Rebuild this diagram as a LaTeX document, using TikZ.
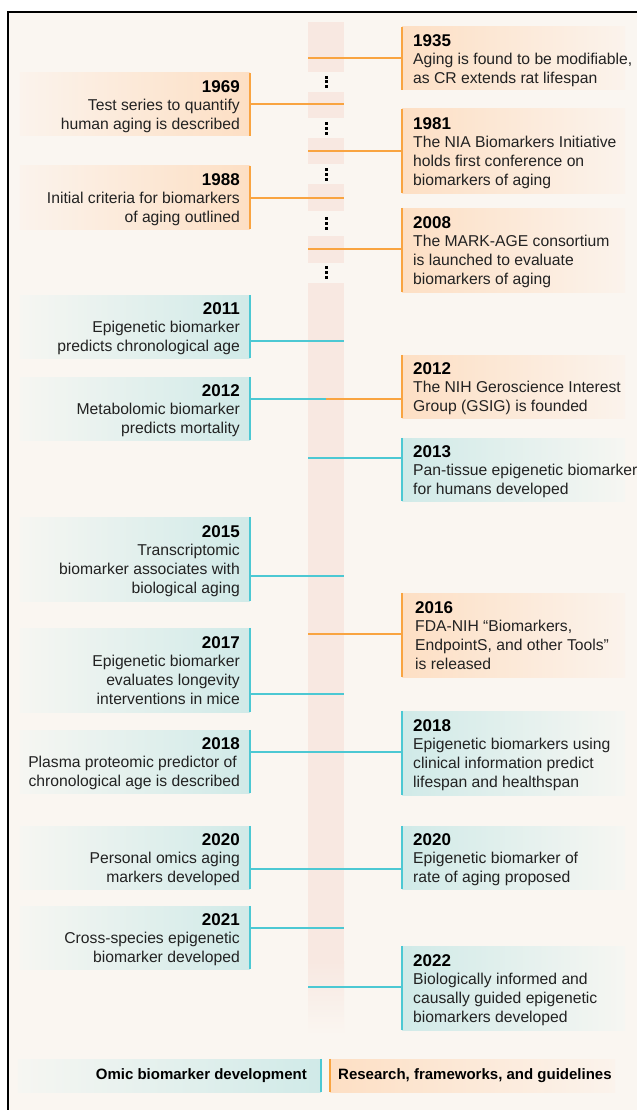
\documentclass[tikz,border=0pt]{standalone}
\usepackage{fontspec}
\setmainfont{Liberation Sans}
\usetikzlibrary{calc}
\definecolor{bg}{HTML}{FAF6F1}
\definecolor{colm}{HTML}{F8E8E1}
\definecolor{orl}{HTML}{F9A441}
\definecolor{ors}{HTML}{FDDFC4}
\definecolor{orw}{HTML}{FBF3EC}
\definecolor{cyl}{HTML}{4CC8D3}
\definecolor{cys}{HTML}{D0EAE8}
\definecolor{cyw}{HTML}{F6F6F2}
\definecolor{txt}{HTML}{222222}
\newcommand\yr[1]{\rule{0pt}{12.5pt}{\fontsize{17}{18.7}\selectfont\bfseries\color{black}#1}}
\tikzset{
  rbox/.style={rectangle, inner sep=0pt, minimum width=223pt, anchor=west},
  lbox/.style={rectangle, inner sep=0pt, minimum width=230pt, anchor=east},
  hthree/.style={minimum height=63pt},
  hfour/.style={minimum height=84pt},
  ofr/.style={left color=ors, right color=orw},
  ofl/.style={left color=orw, right color=ors},
  cfr/.style={left color=cys, right color=cyw},
  cfl/.style={left color=cyw, right color=cys},
  obar/.style={draw=orl, line width=2.6pt},
  cbar/.style={draw=cyl, line width=2.6pt},
  oline/.style={draw=orl, line width=1.5pt},
  cline/.style={draw=cyl, line width=1.5pt},
  rtext/.style={anchor=north west, inner sep=0pt, align=left, text=txt, font={\fontsize{15.7}{18.7}\selectfont}},
  ltext/.style={anchor=north east, inner sep=0pt, align=right, text=txt, font={\fontsize{15.7}{18.7}\selectfont}},
  legtext/.style={inner sep=0pt, text=black, font={\fontsize{15}{18}\selectfont\bfseries}},
}
\begin{document}
\begin{tikzpicture}[x=1pt,y=-1pt]
\useasboundingbox (0,0) rectangle (637,1110);
% frame and background
\fill[white] (0,0) rectangle (637,1110);
\fill[bg] (8,12) rectangle (637,1110);
\draw[black, line width=2pt] (8,1110) -- (8,12) -- (637,12);
% central column
\fill[colm] (308,22) rectangle (344,72);
\fill[colm] (308,92) rectangle (344,118);
\fill[colm] (308,138) rectangle (344,164);
\fill[colm] (308,184) rectangle (344,211);
\fill[colm] (308,236) rectangle (344,263);
\fill[colm] (308,283) rectangle (344,962);
\shade[top color=colm, bottom color=bg] (308,961) rectangle (344,1035);
\foreach \yy in {82,128.5,174.5,223.5,272.5}{
  \foreach \dd in {-4.6,0,4.6}{
    \fill[black] (324.5,{\yy+\dd-1.5}) rectangle ++(3,3);
  }
}
% boxes
\node[rbox,hthree,ofr] (b1935) at (402,58.5) {};
\node[lbox,hthree,ofl] (b1969) at (250,104.5) {};
\node[rbox,hfour,ofr] (b1981) at (402,151) {};
\node[lbox,hthree,ofl] (b1988) at (250,197.5) {};
\node[rbox,hfour,ofr] (b2008) at (402,250) {};
\node[lbox,hthree,cfl] (b2011) at (250,326.5) {};
\node[lbox,hthree,cfl] (b2012l) at (250,408.5) {};
\node[rbox,hthree,ofr] (b2012r) at (402,386.5) {};
\node[rbox,hthree,cfr] (b2013) at (402,469.5) {};
\node[lbox,hfour,cfl] (b2015) at (250,559) {};
\node[rbox,hfour,ofr] (b2016) at (402,635) {};
\node[lbox,hfour,cfl] (b2017) at (250,670) {};
\node[lbox,hthree,cfl] (b2018l) at (250,761.5) {};
\node[rbox,hfour,cfr] (b2018r) at (402,753) {};
\node[lbox,hthree,cfl] (b2020l) at (250,857.5) {};
\node[rbox,hthree,cfr] (b2020r) at (402,857.5) {};
\node[lbox,hthree,cfl] (b2021) at (250,937.5) {};
\node[rbox,hfour,cfr] (b2022) at (402,988) {};
% bars
\foreach \n in {b1935,b1981,b2008,b2012r,b2016}{\draw[obar] (\n.north west) -- (\n.south west);}
\foreach \n in {b1969,b1988}{\draw[obar] (\n.north east) -- (\n.south east);}
\foreach \n in {b2013,b2018r,b2020r,b2022}{\draw[cbar] (\n.north west) -- (\n.south west);}
\foreach \n in {b2011,b2012l,b2015,b2017,b2018l,b2020l,b2021}{\draw[cbar] (\n.north east) -- (\n.south east);}
% connectors
\coordinate (k1935) at (308,58);
\draw[oline] (k1935) -- (k1935 -| b1935.west);
\coordinate (k1969) at (344,104);
\draw[oline] (b1969.east |- k1969) -- (k1969);
\coordinate (k1981) at (308,151);
\draw[oline] (k1981) -- (k1981 -| b1981.west);
\coordinate (k1988) at (344,198);
\draw[oline] (b1988.east |- k1988) -- (k1988);
\coordinate (k2008) at (308,249);
\draw[oline] (k2008) -- (k2008 -| b2008.west);
\coordinate (k2011) at (344,341);
\draw[cline] (b2011.east |- k2011) -- (k2011);
\coordinate (k2012) at (326,399);
\draw[cline] (b2012l.east |- k2012) -- (k2012);
\draw[oline] (k2012) -- (k2012 -| b2012r.west);
\coordinate (k2013) at (308,458);
\draw[cline] (k2013) -- (k2013 -| b2013.west);
\coordinate (k2015) at (344,576);
\draw[cline] (b2015.east |- k2015) -- (k2015);
\coordinate (k2016) at (308,634);
\draw[oline] (k2016) -- (k2016 -| b2016.west);
\coordinate (k2017) at (344,694);
\draw[cline] (b2017.east |- k2017) -- (k2017);
\coordinate (k2018) at (326,752);
\draw[cline] (b2018l.east |- k2018) -- (k2018 -| b2018r.west);
\coordinate (k2020) at (326,869);
\draw[cline] (b2020l.east |- k2020) -- (k2020 -| b2020r.west);
\coordinate (k2021) at (344,928);
\draw[cline] (b2021.east |- k2021) -- (k2021);
\coordinate (k2022) at (308,987);
\draw[cline] (k2022) -- (k2022 -| b2022.west);
% texts
\node[rtext] (t1935) at ([shift={(11pt,25.1pt)}]b1935.west) {\yr{1935}\\Aging is found to be modifiable,\\as CR extends rat lifespan};
\node[ltext] (t1969) at ([shift={(-10pt,25.1pt)}]b1969.east) {\yr{1969}\\Test series to quantify\\human aging is described};
\node[rtext] (t1981) at ([shift={(11pt,34.45pt)}]b1981.west) {\yr{1981}\\The NIA Biomarkers Initiative\\holds first conference on\\biomarkers of aging};
\node[ltext] (t1988) at ([shift={(-10pt,25.1pt)}]b1988.east) {\yr{1988}\\Initial criteria for biomarkers\\of aging outlined};
\node[rtext] (t2008) at ([shift={(11pt,34.45pt)}]b2008.west) {\yr{2008}\\The MARK-AGE consortium\\is launched to evaluate\\biomarkers of aging};
\node[ltext] (t2011) at ([shift={(-10pt,25.1pt)}]b2011.east) {\yr{2011}\\Epigenetic biomarker\\predicts chronological age};
\node[ltext] (t2012l) at ([shift={(-10pt,25.1pt)}]b2012l.east) {\yr{2012}\\Metabolomic biomarker\\predicts mortality};
\node[rtext] (t2012r) at ([shift={(11pt,25.1pt)}]b2012r.west) {\yr{2012}\\The NIH Geroscience Interest\\Group (GSIG) is founded};
\node[rtext] (t2013) at ([shift={(11pt,25.1pt)}]b2013.west) {\yr{2013}\\Pan-tissue epigenetic biomarker\\for humans developed};
\node[ltext] (t2015) at ([shift={(-10pt,34.45pt)}]b2015.east) {\yr{2015}\\Transcriptomic\\biomarker associates with\\biological aging};
\node[rtext] (t2016) at ([shift={(13pt,34.45pt)}]b2016.west) {\yr{2016}\\FDA-NIH “Biomarkers,\\EndpointS, and other Tools”\\is released};
\node[ltext] (t2017) at ([shift={(-10pt,34.45pt)}]b2017.east) {\yr{2017}\\Epigenetic biomarker\\evaluates longevity\\interventions in mice};
\node[ltext] (t2018l) at ([shift={(-10pt,25.1pt)}]b2018l.east) {\yr{2018}\\Plasma proteomic predictor of\kern3pt\\chronological age is described};
\node[rtext] (t2018r) at ([shift={(11pt,34.45pt)}]b2018r.west) {\yr{2018}\\Epigenetic biomarkers using\\clinical information predict\\lifespan and healthspan};
\node[ltext] (t2020l) at ([shift={(-10pt,25.1pt)}]b2020l.east) {\yr{2020}\\Personal omics aging\\markers developed};
\node[rtext] (t2020r) at ([shift={(11pt,25.1pt)}]b2020r.west) {\yr{2020}\\Epigenetic biomarker of\\rate of aging proposed};
\node[ltext] (t2021) at ([shift={(-10pt,25.1pt)}]b2021.east) {\yr{2021}\\Cross-species epigenetic\\biomarker developed};
\node[rtext] (t2022) at ([shift={(11pt,34.45pt)}]b2022.west) {\yr{2022}\\Biologically informed and\\causally guided epigenetic\\biomarkers developed};
% legend
\node[rectangle, inner sep=0pt, minimum width=303pt, minimum height=33pt, anchor=east, cfl] (lg1) at (321,1075.5) {};
\node[rectangle, inner sep=0pt, minimum width=285pt, minimum height=33pt, anchor=west, ofr] (lg2) at (330,1075.5) {};
\draw[cbar] (lg1.north east) -- (lg1.south east);
\draw[obar] (lg2.north west) -- (lg2.south west);
\node[legtext, anchor=east] (lt1) at ([xshift=-14pt]lg1.east) {Omic biomarker development};
\node[legtext, anchor=west] (lt2) at ([xshift=8pt]lg2.west) {Research, frameworks, and guidelines};
\end{tikzpicture}
\end{document}
